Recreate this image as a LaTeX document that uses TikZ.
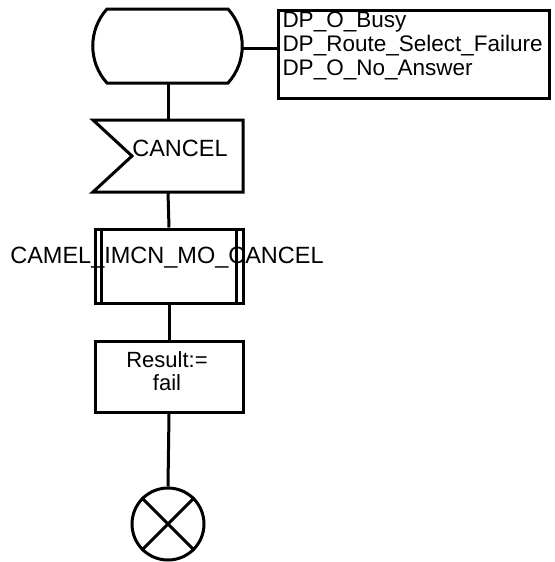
\documentclass[tikz,border=0pt]{standalone}
\usepackage{fontspec}
\setmainfont{Liberation Sans}
\begin{document}
\begin{tikzpicture}[x=1pt,y=-1pt,line width=3pt,
  txt/.style={font=\fontsize{23.5}{25}\selectfont, inner sep=0pt},
  boxnode/.style={draw, inner sep=0pt, minimum width=148pt}]
\useasboundingbox (0,0) rectangle (554,562);
% start state
\draw (107,9) -- (228,9) .. controls (247,30) and (247,62) .. (228,83)
      -- (107,83) .. controls (88,62) and (88,30) .. (107,9) -- cycle;
\coordinate (stS) at (168,83);
\coordinate (stE) at (242,48);
% comment box
\node[draw, inner sep=0pt, minimum width=271pt, minimum height=88pt, anchor=north west] (dp) at (277,9) {};
\node[txt, font=\fontsize{22.5}{24}\selectfont, anchor=north west, align=left] (dptxt) at (281,10)
  {DP\_O\_Busy\\DP\_Route\_Select\_Failure\\DP\_O\_No\_Answer};
% input signal CANCEL
\draw (93,120) -- (243,120) -- (243,192) -- (93,192) -- (132,156) -- cycle;
\coordinate (cnT) at (168,120);
\coordinate (cnB) at (168,192);
\node[txt] (cntxt) at (180,148) {CANCEL};
% procedure call
\node[boxnode, minimum height=74pt] (proc) at (169,266) {};
\draw ([xshift=8pt]proc.north west) -- ([xshift=8pt]proc.south west);
\draw ([xshift=-8pt]proc.north east) -- ([xshift=-8pt]proc.south east);
\node[txt] (proctxt) at (167,258) {CAMEL\_IMCN\_MO\_CANCEL};
% task
\node[boxnode, minimum height=71pt] (res) at (169,376.5) {};
\node[txt, font=\fontsize{22}{23}\selectfont, align=center] (restxt) at (167,371) {Result:=\\fail};
% stop
\node[draw, circle, inner sep=0pt, minimum size=72pt] (stop) at (168,524) {};
\draw (stop.north west) -- (stop.south east);
\draw (stop.north east) -- (stop.south west);
% connectors
\draw (stE) -- (stE -| dp.west);
\draw (stS) -- (cnT);
\draw (cnB) -- (proc.north);
\draw (proc.south) -- (res.north);
\draw (res.south) -- (stop.north);
\end{tikzpicture}
\end{document}
